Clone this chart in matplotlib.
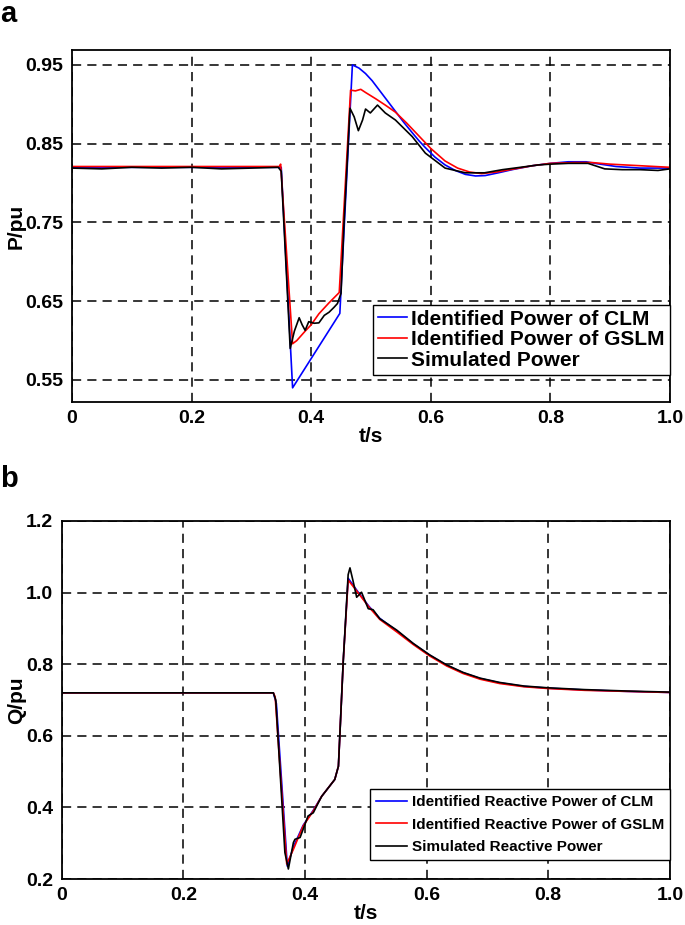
import matplotlib
matplotlib.use("Agg")
import matplotlib.pyplot as plt

plt.rcParams['font.family'] = ['Liberation Sans', 'DejaVu Sans']
plt.rcParams['font.weight'] = 'bold'

# ---------------- Panel a: active power ----------------
t_clm_p = [0, 0.35, 0.369, 0.448, 0.469, 0.48, 0.491, 0.502, 0.513, 0.527, 0.541, 0.555,
           0.569, 0.58, 0.591, 0.607, 0.624, 0.641, 0.658, 0.675, 0.691, 0.713, 0.736,
           0.77, 0.80, 0.83, 0.86, 0.875, 0.91, 0.95, 1.0]
p_clm = [0.82, 0.82, 0.540, 0.6345, 0.95, 0.946, 0.939, 0.930, 0.919, 0.905, 0.891, 0.877,
         0.864, 0.854, 0.845, 0.833, 0.823, 0.816, 0.811, 0.809, 0.8095, 0.813, 0.817,
         0.822, 0.825, 0.827, 0.827, 0.825, 0.821, 0.819, 0.819]

t_gslm_p = [0, 0.347, 0.349, 0.369, 0.376, 0.39, 0.40, 0.413, 0.43, 0.447, 0.466, 0.474,
            0.483, 0.491, 0.508, 0.524, 0.541, 0.56, 0.58, 0.60, 0.624, 0.645, 0.665,
            0.685, 0.71, 0.74, 0.77, 0.80, 0.84, 0.87, 0.90, 0.95, 1.0]
p_gslm = [0.821, 0.821, 0.824, 0.596, 0.600, 0.612, 0.620, 0.634, 0.648, 0.661, 0.918, 0.917,
          0.919, 0.915, 0.907, 0.899, 0.890, 0.876, 0.860, 0.844, 0.828, 0.819, 0.814,
          0.812, 0.814, 0.818, 0.822, 0.825, 0.826, 0.826, 0.824, 0.822, 0.820]

t_sim_p = [0, 0.05, 0.1, 0.15, 0.2, 0.25, 0.3, 0.345, 0.35, 0.365, 0.372, 0.38, 0.385,
           0.39, 0.396, 0.405, 0.413, 0.422, 0.43, 0.438, 0.444, 0.45, 0.455, 0.465,
           0.472, 0.479, 0.486, 0.491, 0.499, 0.511, 0.524, 0.541, 0.569, 0.591, 0.624,
           0.658, 0.69, 0.72, 0.75, 0.78, 0.80, 0.83, 0.863, 0.875, 0.891, 0.92, 0.95,
           0.98, 1.0]
p_sim = [0.819, 0.818, 0.820, 0.819, 0.820, 0.818, 0.819, 0.820, 0.815, 0.590, 0.612, 0.629,
         0.620, 0.613, 0.624, 0.622, 0.6225, 0.632, 0.636, 0.642, 0.647, 0.660, 0.749, 0.895,
         0.884, 0.8665, 0.880, 0.894, 0.889, 0.899, 0.889, 0.880, 0.859, 0.838, 0.819,
         0.813, 0.813, 0.817, 0.820, 0.823, 0.824, 0.825, 0.825, 0.822, 0.818, 0.817, 0.817,
         0.816, 0.818]

legend_a = ['Identified Power of CLM', 'Identified Power of GSLM', 'Simulated Power']
yticks_a = [0.55, 0.65, 0.75, 0.85, 0.95]
ytick_labels_a = ['0.55', '0.65', '0.75', '0.85', '0.95']

# ---------------- Panel b: reactive power ----------------
t_clm_q = [0, 0.348, 0.353, 0.371, 0.381, 0.397, 0.4137, 0.4275, 0.449, 0.455, 0.463,
           0.471, 0.488, 0.505, 0.523, 0.551, 0.578, 0.605, 0.633, 0.66, 0.688, 0.72,
           0.76, 0.80, 0.86, 0.93, 1.0]
q_clm = [0.72, 0.72, 0.69, 0.236, 0.290, 0.350, 0.392, 0.431, 0.478, 0.515, 0.811,
         1.040, 1.000, 0.962, 0.928, 0.893, 0.857, 0.825, 0.797, 0.776, 0.760, 0.748,
         0.738, 0.733, 0.728, 0.724, 0.721]

t_gslm_q = [0, 0.348, 0.351, 0.37, 0.381, 0.397, 0.4137, 0.4275, 0.449, 0.455, 0.463,
            0.471, 0.488, 0.505, 0.523, 0.551, 0.578, 0.605, 0.633, 0.66, 0.688, 0.72,
            0.76, 0.80, 0.86, 0.93, 1.0]
q_gslm = [0.72, 0.72, 0.709, 0.242, 0.283, 0.348, 0.390, 0.431, 0.478, 0.515, 0.811,
          1.035, 0.998, 0.960, 0.925, 0.890, 0.855, 0.823, 0.795, 0.774, 0.758, 0.746,
          0.737, 0.732, 0.727, 0.724, 0.721]

t_sim_q = [0, 0.348, 0.352, 0.367, 0.3727, 0.381, 0.3836, 0.392, 0.397, 0.405, 0.4137,
           0.422, 0.4275, 0.449, 0.455, 0.463, 0.471, 0.474, 0.479, 0.485, 0.493, 0.504,
           0.512, 0.523, 0.551, 0.578, 0.605, 0.633, 0.66, 0.688, 0.72, 0.76, 0.80, 0.86,
           0.93, 1.0]
q_sim = [0.72, 0.72, 0.70, 0.274, 0.228, 0.302, 0.311, 0.316, 0.339, 0.376, 0.385,
         0.413, 0.431, 0.478, 0.515, 0.811, 1.05, 1.069, 1.033, 0.987, 1.001, 0.955,
         0.952, 0.927, 0.895, 0.858, 0.826, 0.798, 0.777, 0.761, 0.749, 0.739, 0.734, 0.729,
         0.725, 0.722]

legend_b = ['Identified Reactive Power of CLM', 'Identified Reactive Power of GSLM',
            'Simulated Reactive Power']
yticks_b = [0.2, 0.4, 0.6, 0.8, 1.0, 1.2]
ytick_labels_b = ['0.2', '0.4', '0.6', '0.8', '1.0', '1.2']

xticks = [0, 0.2, 0.4, 0.6, 0.8, 1.0]
xtick_labels = ['0', '0.2', '0.4', '0.6', '0.8', '1.0']

fig = plt.figure(figsize=(6.85, 9.25), dpi=100)
ax_a = fig.add_axes([0.105, 0.5654, 0.873, 0.3806])
ax_b = fig.add_axes([0.090, 0.0497, 0.888, 0.3871])


def style(ax, yt, ytl, ylim):
    ax.set_xlim(0, 1.0)
    ax.set_ylim(*ylim)
    ax.set_xticks(xticks)
    ax.set_xticklabels(xtick_labels)
    ax.set_yticks(yt)
    ax.set_yticklabels(ytl)
    ax.grid(True, color='black', linestyle=(0, (6, 4)), linewidth=1.1)
    ax.tick_params(direction='in', length=0, labelsize=14, pad=6)
    for lab in ax.get_xticklabels() + ax.get_yticklabels():
        lab.set_fontweight('bold')
    for s in ax.spines.values():
        s.set_linewidth(1.3)
        s.set_color('black')


# Panel a
ax_a.plot(t_clm_p, p_clm, color='#0000ff', lw=1.2, label=legend_a[0])
ax_a.plot(t_gslm_p, p_gslm, color='#ff0000', lw=1.2, label=legend_a[1])
ax_a.plot(t_sim_p, p_sim, color='black', lw=1.2, label=legend_a[2])
style(ax_a, yticks_a, ytick_labels_a, (0.522, 0.969))
ax_a.set_xlabel('t/s', fontsize=15, fontweight='bold', labelpad=0)
ax_a.set_ylabel('P/pu', fontsize=15, fontweight='bold', labelpad=0)
leg = ax_a.legend(loc='lower right', bbox_to_anchor=(1.0, 0.077), borderaxespad=0,
                  prop={'weight': 'bold', 'size': 15},
                  handlelength=1.4, handletextpad=0.2, labelspacing=0.07,
                  borderpad=0.25, fancybox=False, framealpha=1, edgecolor='black')
leg.get_frame().set_linewidth(1.0)

# Panel b
ax_b.plot(t_clm_q, q_clm, color='#0000ff', lw=1.2, label=legend_b[0])
ax_b.plot(t_gslm_q, q_gslm, color='#ff0000', lw=1.2, label=legend_b[1])
ax_b.plot(t_sim_q, q_sim, color='black', lw=1.2, label=legend_b[2])
style(ax_b, yticks_b, ytick_labels_b, (0.2, 1.2))
ax_b.set_xlabel('t/s', fontsize=15, fontweight='bold', labelpad=0)
ax_b.set_ylabel('Q/pu', fontsize=15, fontweight='bold', labelpad=0)
leg = ax_b.legend(loc='lower right', bbox_to_anchor=(1.0, 0.053), borderaxespad=0,
                  prop={'weight': 'bold', 'size': 11},
                  handlelength=2.0, handletextpad=0.3, labelspacing=0.55,
                  borderpad=0.4, fancybox=False, framealpha=1, edgecolor='black')
leg.get_frame().set_linewidth(1.0)

fig.text(0.0, 1.0, 'a', fontsize=21, fontweight='bold', va='top', ha='left')
fig.text(0.0, 0.497, 'b', fontsize=21, fontweight='bold', va='top', ha='left')

fig.savefig('out.png', dpi=100, facecolor='white')
